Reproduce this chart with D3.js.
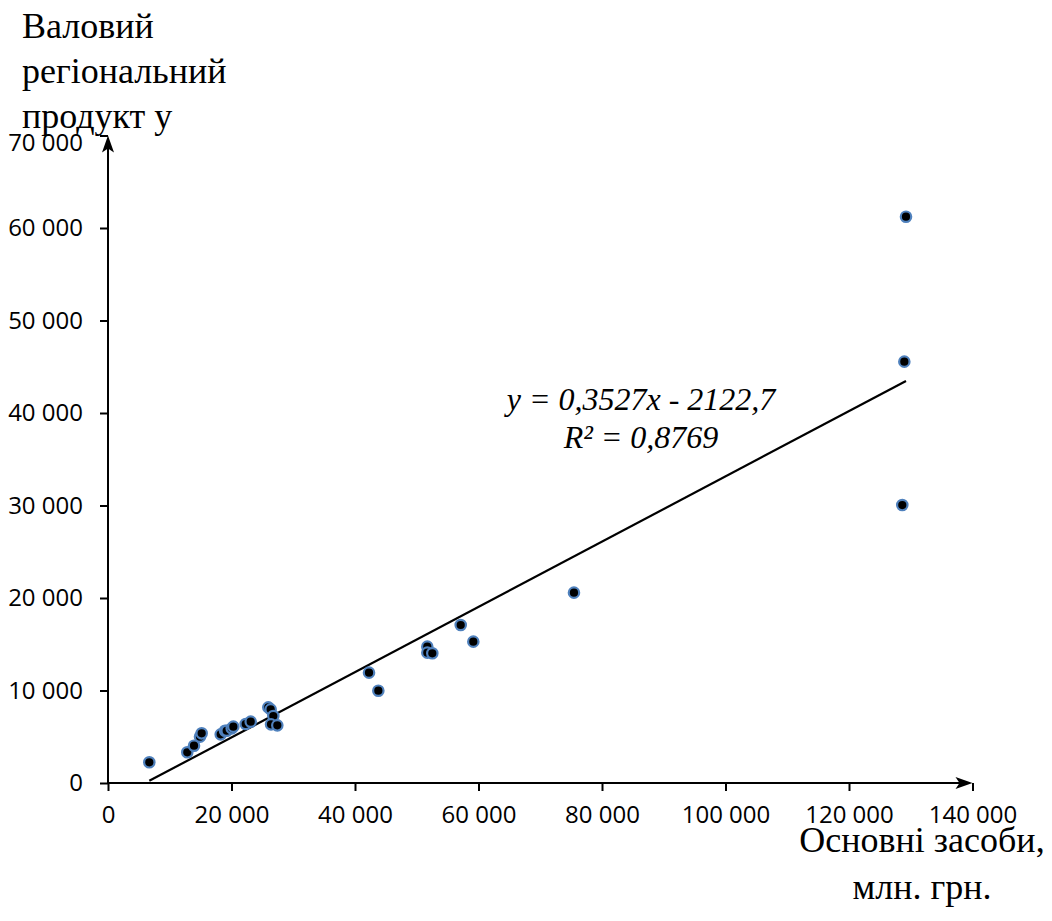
<!DOCTYPE html>
<html><head><meta charset="utf-8">
<script src="https://cdn.jsdelivr.net/npm/d3@7"></script>
<style>body{margin:0;background:#fff}svg{display:block}</style>
</head><body><svg id="c" width="1052" height="921"></svg>
<script>
// Основні засоби, млн. грн.
const fixedAssets = [6690, 12840, 13930, 14900, 15170, 18250, 18950, 19220, 20030, 20300,
  22300, 23110, 25960, 26340, 26770, 26400, 27420,
  42270, 43780, 51710, 51710, 52520, 57120, 59160, 75460,
  129230, 128960, 128630];
// Валовий регіональний продукт
const grossProduct = [2240, 3320, 4030, 5010, 5370, 5260, 5650, 5650, 5910, 6090,
  6380, 6630, 8180, 7960, 7240, 6340, 6230,
  11930, 9980, 14740, 14090, 14020, 17080, 15280, 20580,
  61220, 45550, 30050];
const xTicks = [0, 20000, 40000, 60000, 80000, 100000, 120000, 140000];
const yTicks = [0, 10000, 20000, 30000, 40000, 50000, 60000, 70000];
const trendSlope = 0.3527;
const trendIntercept = -2122.7;
const eqLines = ["y = 0,3527x - 2122,7", "R² = 0,8769"];
const yTitle = ["Валовий", "регіональний", "продукт у"];
const xTitle = ["Основні засоби,", "млн. грн."];

const svg = d3.select("#c");
const x = d3.scaleLinear().domain([0, 140000]).range([108, 972.5]);
const y = d3.scaleLinear().domain([0, 70000]).range([783, 135.5]);
const loc = d3.formatLocale({decimal: ",", thousands: " ", grouping: [3], currency: ["", ""]});
const fmt = loc.format(",d");
const tickFont = "'Open Sans', sans-serif";
const serif = "'Liberation Serif', 'Times New Roman', serif";

// Y axis
const ya = svg.append("g").attr("transform", `translate(${x(0)},0)`)
  .call(d3.axisLeft(y).tickValues(yTicks).tickSize(8).tickPadding(17).tickFormat(fmt));
ya.select(".domain").remove();
ya.selectAll(".tick line").attr("stroke", "#000").attr("stroke-width", 2);
ya.selectAll(".tick text").attr("fill", "#000").style("font-family", tickFont).style("font-size", "24px");
ya.selectAll(".tick").filter(d => d === 70000).select("text").attr("y", 7);

// X axis
const xa = svg.append("g").attr("transform", `translate(0,${y(0)})`)
  .call(d3.axisBottom(x).tickValues(xTicks).tickSize(8).tickPadding(15).tickFormat(fmt));
xa.select(".domain").remove();
xa.selectAll(".tick line").attr("stroke", "#000").attr("stroke-width", 2);
xa.selectAll(".tick text").attr("fill", "#000").style("font-family", tickFont).style("font-size", "24px");

// axis lines with arrows
const x0 = x(0), y0 = y(0), xe = x(140000), ye = y(70000);
svg.append("line").attr("x1", x0).attr("y1", y0).attr("x2", x0).attr("y2", ye + 6)
  .attr("stroke", "#000").attr("stroke-width", 2);
svg.append("line").attr("x1", x0 - 1).attr("y1", y0).attr("x2", xe - 6).attr("y2", y0)
  .attr("stroke", "#000").attr("stroke-width", 2);
svg.append("path").attr("d", `M${x0},${ye} L${x0 - 6},${ye + 17} L${x0},${ye + 13} L${x0 + 6},${ye + 17} Z`).attr("fill", "#000");
svg.append("path").attr("d", `M${xe},${y0} L${xe - 17},${y0 - 6} L${xe - 13},${y0} L${xe - 17},${y0 + 6} Z`).attr("fill", "#000");

// trend line
const xmin = d3.min(fixedAssets), xmax = d3.max(fixedAssets);
svg.append("line")
  .attr("x1", x(xmin)).attr("y1", y(trendSlope * xmin + trendIntercept))
  .attr("x2", x(xmax)).attr("y2", y(trendSlope * xmax + trendIntercept))
  .attr("stroke", "#000").attr("stroke-width", 2.2);

// points
svg.append("g").selectAll("circle").data(fixedAssets).join("circle")
  .attr("cx", d => x(d)).attr("cy", (d, i) => y(grossProduct[i]))
  .attr("r", 5.2).attr("fill", "#000").attr("stroke", "#4f81bd").attr("stroke-width", 2.2);

// equation
svg.append("g").selectAll("text").data(eqLines).join("text")
  .attr("x", 641).attr("y", (d, i) => 410 + i * 38)
  .attr("text-anchor", "middle")
  .style("font-family", serif)
  .style("font-style", "italic").style("font-size", "32px")
  .text(d => d);

// titles
svg.append("g").selectAll("text").data(yTitle).join("text")
  .attr("x", 22).attr("y", (d, i) => 38 + i * 45)
  .style("font-family", serif)
  .style("font-size", "36px").text(d => d);
svg.append("g").selectAll("text").data(xTitle).join("text")
  .attr("x", 922).attr("y", (d, i) => 852 + i * 47)
  .attr("text-anchor", "middle")
  .style("font-family", serif)
  .style("font-size", "36px").text(d => d);
</script></body></html>
